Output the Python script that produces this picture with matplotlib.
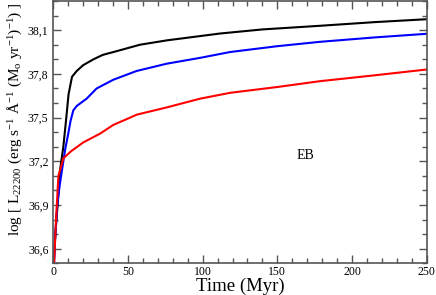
import matplotlib
matplotlib.use("Agg")
import matplotlib.pyplot as plt
from matplotlib.ticker import MultipleLocator

# time (Myr) and log L values
t_black = [0.3, 1.5, 3.3, 4.5, 6.7, 8.5, 10.2, 12.5, 15.7, 20, 26.9, 33, 40.3, 58, 76, 95, 111.7, 140, 178.6, 215, 250]
v_black = [36.5, 36.72, 36.96, 37.14, 37.30, 37.48, 37.66, 37.78, 37.82, 37.86, 37.90, 37.93, 37.95, 38.0, 38.03, 38.055, 38.077, 38.105, 38.13, 38.155, 38.175]

t_blue = [0.5, 1.1, 2.7, 4.2, 5.8, 7.9, 9.8, 11.6, 13.4, 15.7, 22.3, 29, 40.2, 55.8, 76, 98.3, 118.4, 150, 178.6, 215, 250]
v_blue = [36.5, 36.66, 36.91, 37.03, 37.14, 37.28, 37.38, 37.48, 37.55, 37.58, 37.63, 37.70, 37.76, 37.82, 37.87, 37.91, 37.95, 37.99, 38.02, 38.05, 38.075]

t_red = [0.5, 1.8, 3.4, 4.5, 6.7, 12, 20.1, 31.3, 40.2, 49.2, 55.8, 76, 98.3, 118.4, 150, 178.6, 215, 250]
v_red = [36.5, 36.8, 37.1, 37.14, 37.22, 37.27, 37.33, 37.39, 37.45, 37.49, 37.52, 37.57, 37.63, 37.67, 37.71, 37.75, 37.79, 37.83]

y_ticks = [36.6, 36.9, 37.2, 37.5, 37.8, 38.1]
y_labels = ["36,6", "36,9", "37,2", "37,5", "37,8", "38,1"]

plt.rcParams['font.family'] = ['Liberation Serif', 'DejaVu Serif']
plt.rcParams['mathtext.fontset'] = 'custom'
plt.rcParams['mathtext.rm'] = 'Liberation Serif'
plt.rcParams['mathtext.it'] = 'Liberation Serif:italic'

fig = plt.figure(figsize=(4.36, 2.95), dpi=100)
ax = fig.add_axes([0.1223, 0.1073, 0.8564, 0.8893])

ax.plot(t_black, v_black, color="black", lw=1.5)
ax.plot(t_blue, v_blue, color="blue", lw=1.5)
ax.plot(t_red, v_red, color="red", lw=1.5)

ax.set_xlim(0, 250)
ax.set_ylim(36.5, 38.3)
ax.xaxis.set_major_locator(MultipleLocator(50))
ax.xaxis.set_minor_locator(MultipleLocator(10))
ax.yaxis.set_minor_locator(MultipleLocator(0.1))
ax.set_yticks(y_ticks)
ax.set_yticklabels(y_labels)

for s in ax.spines.values():
    s.set_color("#555555")
    s.set_linewidth(1.2)
ax.tick_params(which="both", direction="in", top=True, right=True, colors="#555555", labelcolor="black", labelsize=8.5)
ax.tick_params(which="major", length=6, width=1)
ax.tick_params(which="minor", length=3.5, width=1)
ax.tick_params(axis="x", pad=2)

ax.text(168.6, 37.24, "EB", fontsize=10, ha="center", va="center")

ax.set_xlabel("Time (Myr)", fontsize=13.5)
ax.xaxis.set_label_coords(0.5, -0.055)
ax.set_ylabel(r"log [ L$_{\mathrm{22200}}$ (erg s$^{-1}$ $\mathrm{\AA}^{-1}$ (M$_{\mathrm{o}}$ yr$^{-1}$)$^{-1}$) ]", fontsize=11)
ax.yaxis.set_label_coords(-0.078, 0.551)

fig.savefig("out.png", dpi=100)
